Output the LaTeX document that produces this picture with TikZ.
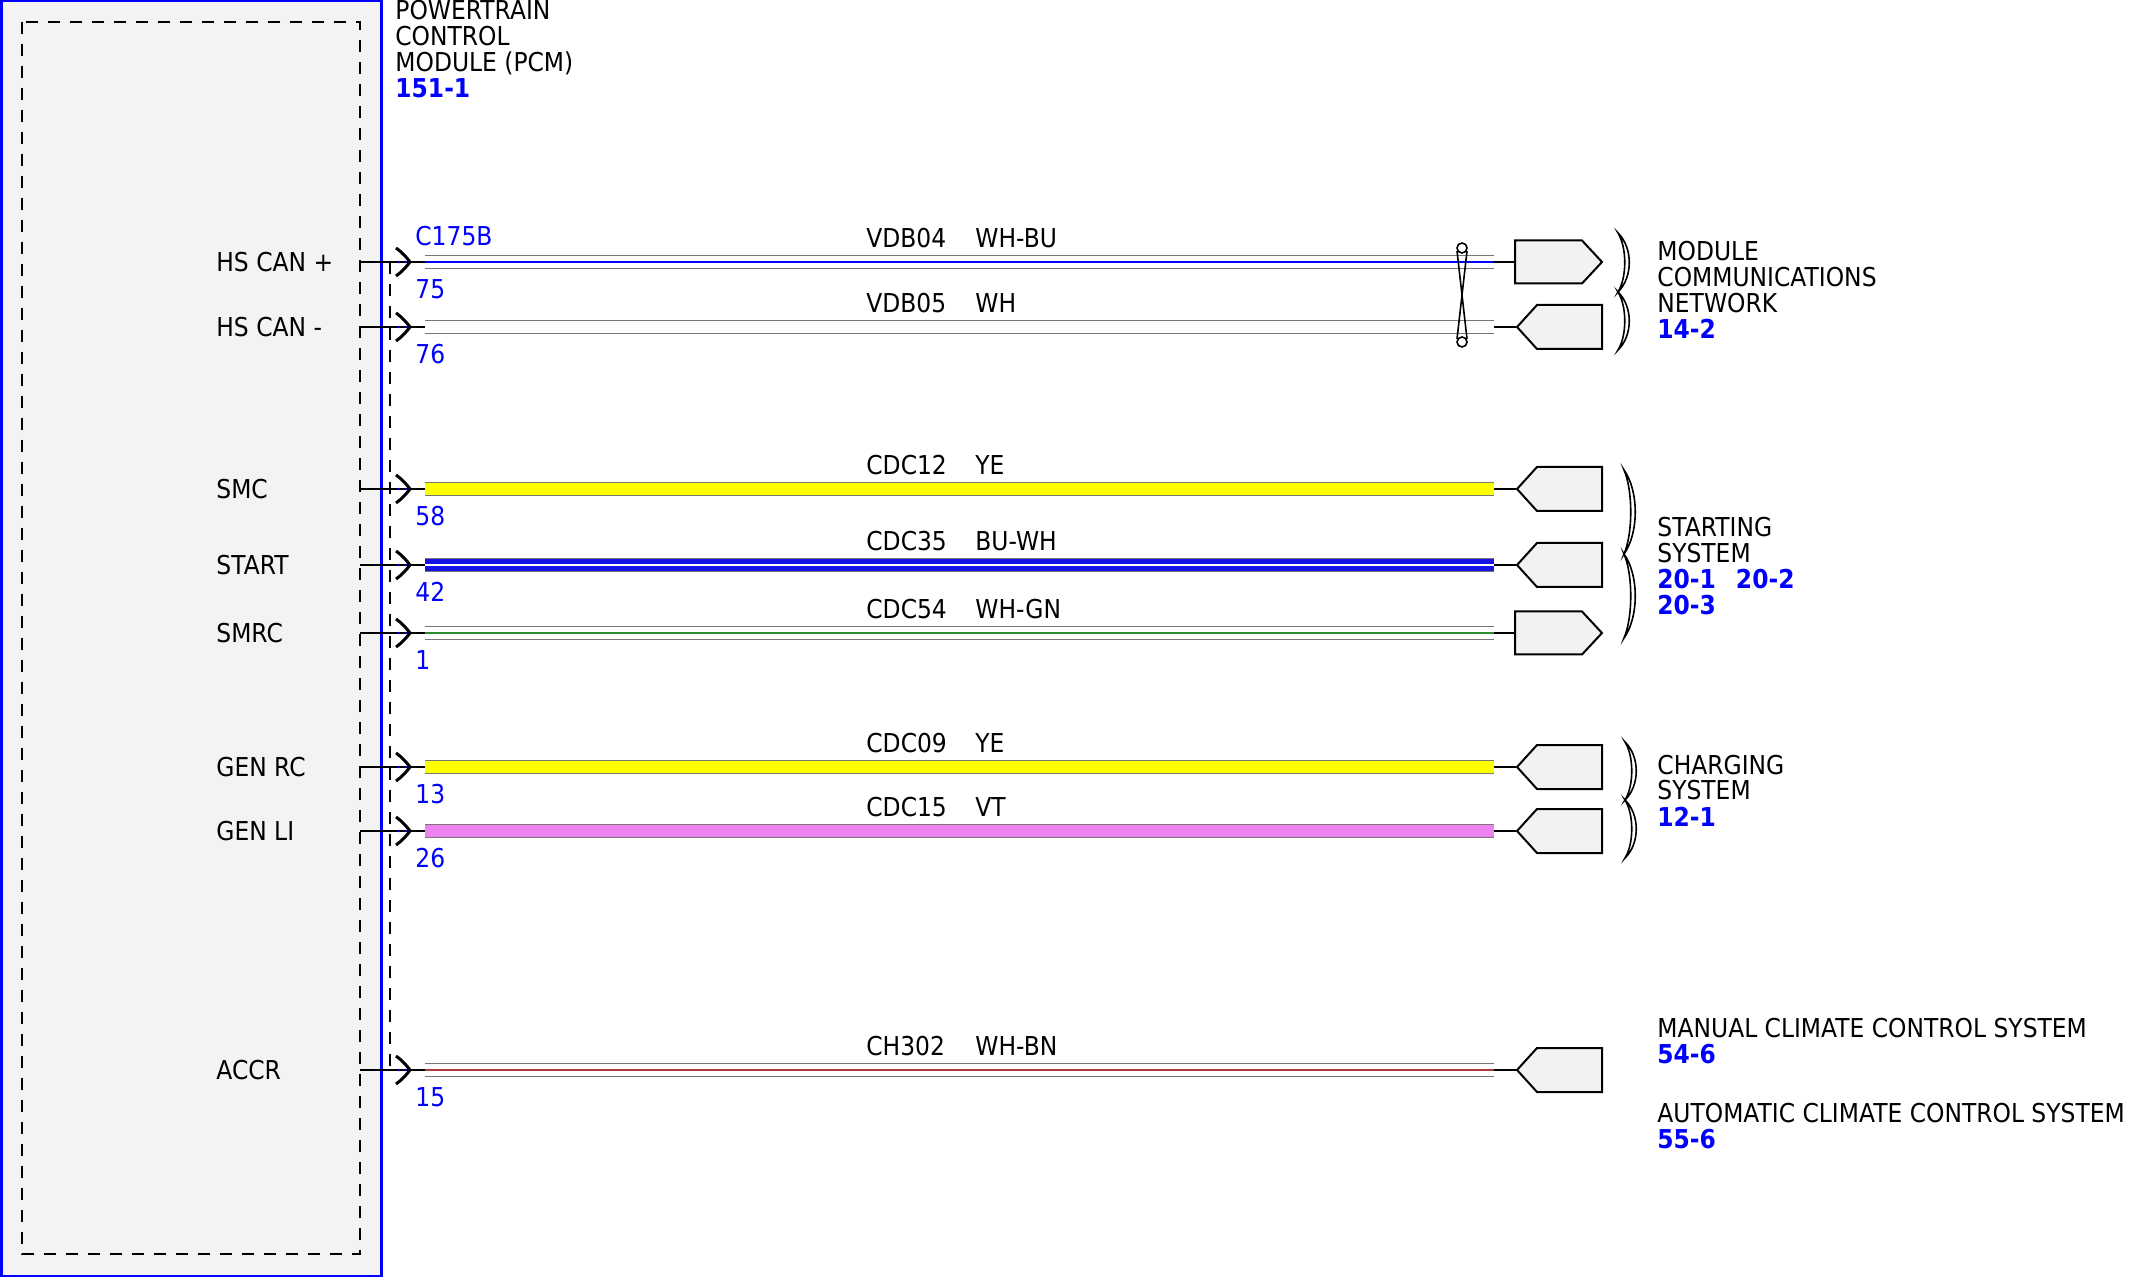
\documentclass[tikz,border=0pt]{standalone}
\usepackage{fontspec}
\setmainfont{DejaVu Sans}[FakeStretch=0.9]
\usepackage{tikz}
\definecolor{boxfill}{HTML}{F3F3F3}
\definecolor{connfill}{HTML}{F2F2F2}
\definecolor{refblue}{HTML}{0000FF}
\definecolor{wireedge}{HTML}{777777}
\definecolor{wireyellow}{HTML}{FFFF00}
\definecolor{wireblue}{HTML}{1414E6}
\definecolor{wiregreen}{HTML}{2E8B2E}
\definecolor{wireviolet}{HTML}{EE82EE}
\definecolor{wirebrown}{HTML}{B03A3A}
\newcommand{\sysref}[1]{{\color{refblue}\bfseries #1}}
\tikzset{
  every node/.style={inner sep=0pt,font=\fontsize{13}{13}\selectfont},
  pinlbl/.style={anchor=west},
  pinnum/.style={anchor=west,text=refblue},
  wirelbl/.style={anchor=west},
  reflbl/.style={anchor=base west,align=left},
  dashbox/.style={dash pattern=on 6pt off 5pt,line width=1.2pt},
  conn/.style={draw=black,line width=1pt,fill=connfill},
  pinmark/.style={line width=1.5pt},
  brace/.style={draw=black,line width=0.8pt,fill=white}
}
\begin{document}
\begin{tikzpicture}[x=0.5pt,y=-0.5pt]
		\useasboundingbox (0,0) rectangle (2130,1277);
		% module box
		\draw[fill=boxfill,draw=refblue,line width=1.5pt] (1,1) rectangle (381,1276);
		\draw[dashbox] (22,22) rectangle (360,1254);
		\draw[dashbox] (390,262) -- (390,1070);
		\node[reflbl] (pcm) at (395,98) {POWERTRAIN\\CONTROL\\MODULE (PCM)\\\sysref{151-1}};
		\node[pinnum] (c175b) at (415,236) {C175B};
		% pins
		\foreach \y/\num/\lbl in {262/75/HS CAN +, 327/76/HS CAN -, 489/58/SMC, 565/42/START, 633/1/SMRC, 767/13/GEN RC, 831/26/GEN LI, 1070/15/ACCR}{
			\node[pinlbl] (pin\num) at (216,\y) {\lbl};
			\node[pinnum] (num\num) at (415,{\y+27}) {\num};
			\coordinate (w\num a) at (425,\y);
			\coordinate (w\num b) at (1494,\y);
			\draw[line width=1pt] (360,\y) -- (w\num a);
			\draw[pinmark] (396,{\y-14}) .. controls (403,{\y-9}) and (407,{\y-4}) .. (410,\y) .. controls (407,{\y+4}) and (403,{\y+9}) .. (396,{\y+14});
			\fill[refblue] (399,\y) circle (1.3);
			\fill[refblue] (406,\y) circle (1.3);
		}
		% wires
		\foreach \y/\num/\code/\col/\base/\tracer in {262/75/VDB04/WH-BU/white/refblue, 327/76/VDB05/WH/white/white, 489/58/CDC12/YE/wireyellow/wireyellow, 565/42/CDC35/BU-WH/wireblue/white, 633/1/CDC54/WH-GN/white/wiregreen, 767/13/CDC09/YE/wireyellow/wireyellow, 831/26/CDC15/VT/wireviolet/wireviolet, 1070/15/CH302/WH-BN/white/wirebrown}{
			\draw[line width=6.6pt,draw=wireedge] (w\num a) -- (w\num b);
			\draw[line width=5.6pt,draw=\base] (w\num a) -- (w\num b);
			\draw[line width=1.3pt,draw=\tracer] (w\num a) -- (w\num b);
			\draw[line width=1pt] (w\num b) -- (1516,\y);
			\node[wirelbl] (code\num) at (866,{\y-24}) {\code};
			\node[wirelbl] (col\num) at (975,{\y-24}) {\col};
		}
		% connectors
		\foreach \y in {262,633}
			\draw[conn] (1515,{\y-21.5}) -- (1582,{\y-21.5}) -- (1602,\y) -- (1582,{\y+21.5}) -- (1515,{\y+21.5}) -- cycle;
		\foreach \y in {327,489,565,767,831,1070}
			\draw[conn] (1517,\y) -- (1537,{\y-22}) -- (1602,{\y-22}) -- (1602,{\y+22}) -- (1537,{\y+22}) -- cycle;
		% twisted pair
		\draw[line width=0.8pt] (1457,251) -- (1467,339);
		\draw[line width=0.8pt] (1467,251) -- (1457,339);
		\draw[line width=0.8pt,fill=white] (1462,248) circle (5);
		\draw[line width=0.8pt,fill=white] (1462,342) circle (5);
		% braces
		\foreach \x/\ya/\ym/\yb in {1618/233/292/350, 1624/470/554/638, 1625/742/800/858}{
			\draw[brace] (\x,\ya) .. controls ({\x+15},{\ya+(\ym-\ya)/4}) and ({\x+15},{\ym-(\ym-\ya)/4}) .. (\x,\ym) .. controls ({\x+9},{\ym-(\ym-\ya)/4}) and ({\x+9},{\ya+(\ym-\ya)/4}) .. (\x,\ya) -- cycle;
			\draw[brace] (\x,\ym) .. controls ({\x+15},{\ym+(\yb-\ym)/4}) and ({\x+15},{\yb-(\yb-\ym)/4}) .. (\x,\yb) .. controls ({\x+9},{\yb-(\yb-\ym)/4}) and ({\x+9},{\ym+(\yb-\ym)/4}) .. (\x,\ym) -- cycle;
		}
		% system references
		\node[reflbl] (mcn) at (1657,339) {MODULE\\COMMUNICATIONS\\NETWORK\\\sysref{14-2}};
		\node[reflbl] (strt) at (1657,615) {STARTING\\SYSTEM\\\sysref{20-1\hspace{10pt}20-2}\\\sysref{20-3}};
		\node[reflbl] (chg) at (1657,826) {CHARGING\\SYSTEM\\\sysref{12-1}};
		\node[reflbl] (mccs) at (1657,1063) {MANUAL CLIMATE CONTROL SYSTEM\\\sysref{54-6}};
		\node[reflbl] (accs) at (1657,1148) {AUTOMATIC CLIMATE CONTROL SYSTEM\\\sysref{55-6}};
\end{tikzpicture}
\end{document}
